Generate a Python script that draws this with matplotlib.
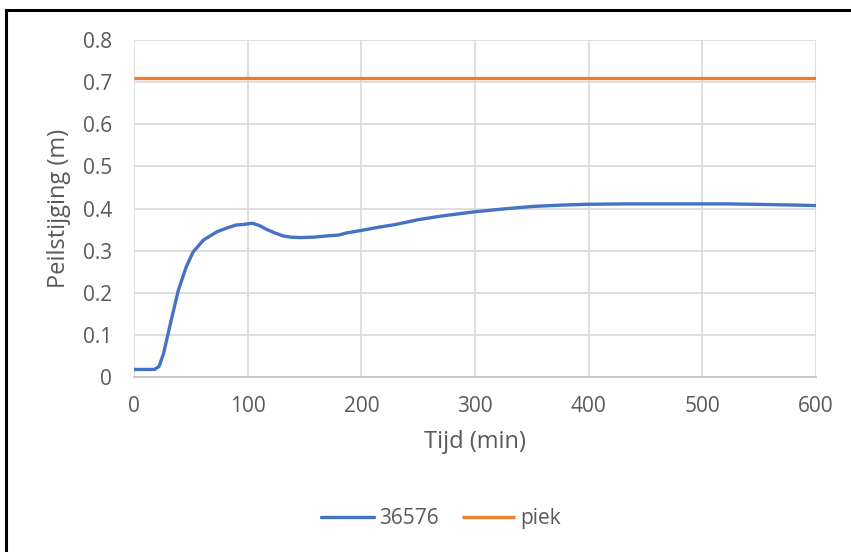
import matplotlib.pyplot as plt
from matplotlib.lines import Line2D

plt.rcParams['font.family'] = ['Open Sans', 'DejaVu Sans']

# Meetreeks 36576: tijd (min) en peilstijging (m)
tijd = [0, 10, 18, 22, 26, 32, 39, 46, 52, 61, 73, 82, 90, 96, 104, 110,
        117, 124, 131, 138, 146, 158, 170, 180, 187, 200, 216, 230, 249,
        270, 299, 325, 351, 375, 398, 433, 480, 521, 545, 565, 585, 600]
peil = [0.018, 0.018, 0.018, 0.025, 0.056, 0.127, 0.206, 0.262, 0.297,
        0.325, 0.345, 0.354, 0.361, 0.362, 0.365, 0.360, 0.350, 0.342,
        0.335, 0.332, 0.331, 0.332, 0.335, 0.337, 0.342, 0.348, 0.356,
        0.362, 0.373, 0.382, 0.392, 0.399, 0.405, 0.408, 0.410, 0.411,
        0.411, 0.411, 0.410, 0.409, 0.408, 0.407]
piek = 0.71

x_ticks = [0, 100, 200, 300, 400, 500, 600]
y_ticks = [0, 0.1, 0.2, 0.3, 0.4, 0.5, 0.6, 0.7, 0.8]

fig = plt.figure(figsize=(8.51, 5.52), dpi=100)
ax = fig.add_axes([0.1575, 0.317, 0.8014, 0.6105])

tekst = '#595959'
ax.plot(tijd, peil, color='#4472C4', lw=2.4, label='36576',
        solid_capstyle='round', zorder=3)
ax.plot([0, 600], [piek, piek], color='#ED7D31', lw=2.4, label='piek',
        solid_capstyle='butt', zorder=3)

ax.set_xlim(0, 600)
ax.set_ylim(0, 0.8)
ax.set_xticks(x_ticks)
ax.set_yticks(y_ticks)
ax.set_yticklabels(['0'] + [f'{v:.1f}' for v in y_ticks[1:]])
ax.grid(True, color='#d9d9d9', lw=1.2)
ax.set_axisbelow(True)
for side in ['top', 'right', 'left']:
    ax.spines[side].set_visible(False)
ax.spines['bottom'].set_color('#bfbfbf')
ax.spines['bottom'].set_linewidth(1.2)
ax.tick_params(length=0, labelsize=15, colors=tekst)
ax.tick_params(axis='y', pad=16)
ax.tick_params(axis='x', pad=14)

ax.set_xlabel('Tijd (min)', fontsize=17, color=tekst, labelpad=9)
ax.set_ylabel('Peilstijging (m)', fontsize=17, color=tekst, labelpad=8)

ax.legend(loc='center', bbox_to_anchor=(0.45, -0.42), ncol=2, frameon=False,
          fontsize=15, labelcolor=tekst, handlelength=2.55,
          columnspacing=1.1, handletextpad=0.25)

# zwarte kaderrand links en boven
fig.add_artist(Line2D([0.0075, 0.0075], [0, 0.982], color='black', lw=2.2,
                      transform=fig.transFigure))
fig.add_artist(Line2D([0.0075, 1], [0.982, 0.982], color='black', lw=2.2,
                      transform=fig.transFigure))

fig.savefig('out.png', dpi=100)
